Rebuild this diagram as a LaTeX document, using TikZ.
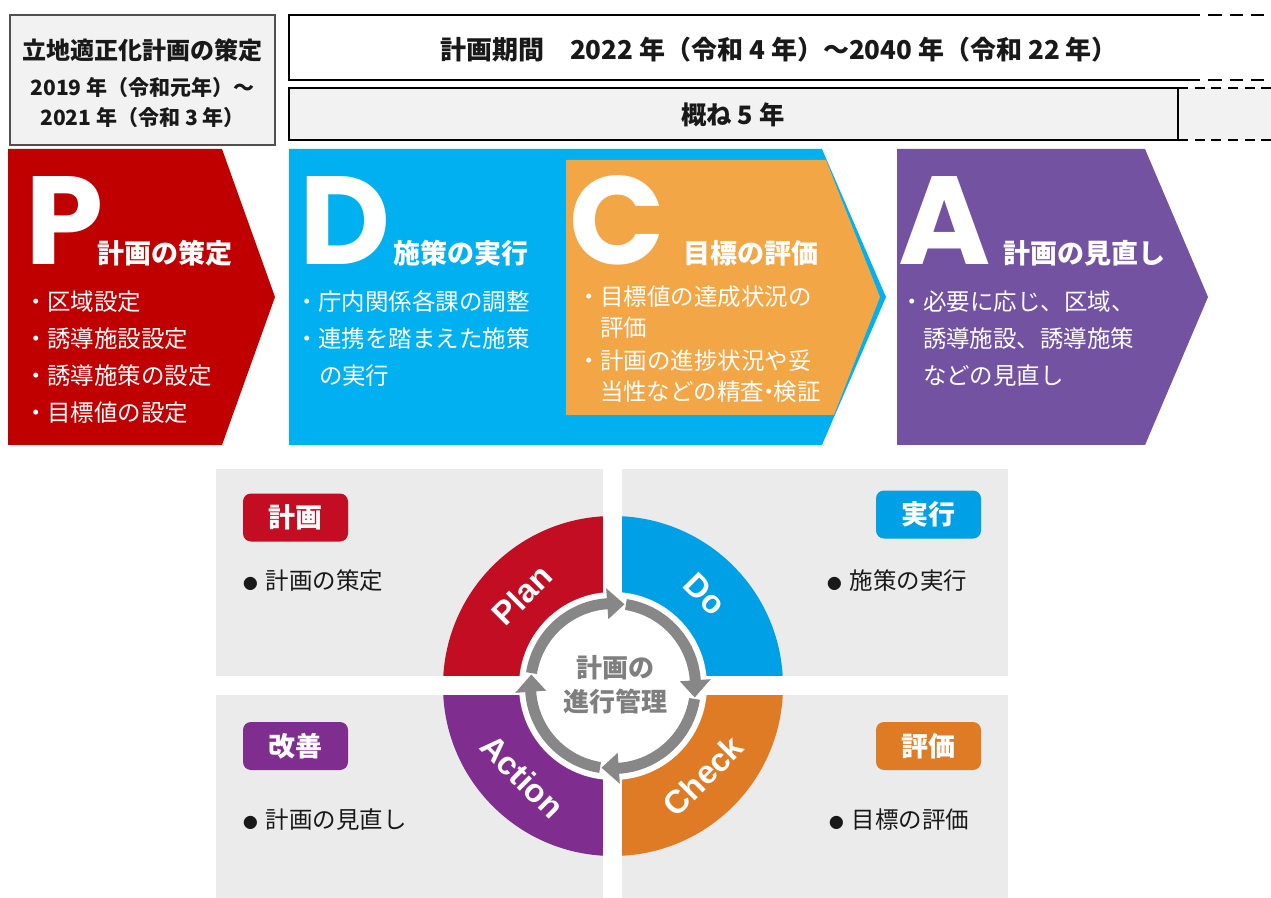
\documentclass[tikz,border=0pt]{standalone}
\usepackage{fontspec}
\setmainfont{Noto Sans CJK JP}
\newfontfamily\bigfont{Poppins}
\newfontfamily\latfont{Liberation Sans}
\newcommand\setfs[1]{\fontsize{#1pt}{#1pt}\selectfont}
\definecolor{boxgray}{HTML}{F2F2F2}
\definecolor{boxline}{HTML}{505050}
\definecolor{pred}{HTML}{C00000}
\definecolor{dblue}{HTML}{00B0F0}
\definecolor{corange}{HTML}{F3A646}
\definecolor{apurple}{HTML}{7352A1}
\definecolor{panelgray}{HTML}{EBEBEB}
\definecolor{rred}{HTML}{C30D23}
\definecolor{rblue}{HTML}{00A0E6}
\definecolor{rorange}{HTML}{E07B25}
\definecolor{rpurple}{HTML}{7F2D8E}
\definecolor{arrowgray}{HTML}{878787}
\definecolor{centergray}{HTML}{7F7F7F}
\begin{document}
\begin{tikzpicture}[x=0.75pt,y=-0.75pt,
  jtxt/.style={inner sep=0pt, outer sep=0pt, text=black!90},
  wtext/.style={inner sep=0pt, outer sep=0pt, text=white, anchor=west, font=\setfs{17.6}},
  whead/.style={inner sep=0pt, outer sep=0pt, text=white, anchor=west, font=\bfseries\setfs{20.25}},
  bigletter/.style={inner sep=0pt, outer sep=0pt, text=white, anchor=base, font=\bigfont\bfseries\setfs{94}},
  ringtxt/.style={inner sep=0pt, outer sep=0pt, text=white, font=\latfont\bfseries\setfs{24.5}},
  tagbox/.style={rounded corners=6pt, inner sep=0pt, text=white, font=\bfseries\setfs{20.25}, minimum width=78.75pt, minimum height=36pt},
  bultext/.style={inner sep=0pt, outer sep=0pt, anchor=west, text=black!90, font=\setfs{17.6}},
  solidline/.style={line width=2.2pt, black},
  dashline/.style={line width=2.2pt, black, dash pattern=on 10pt off 6pt},
  thinsolid/.style={line width=1.6pt, black},
  thindash/.style={line width=1.6pt, black, dash pattern=on 7.5pt off 5pt}
]
\useasboundingbox (0,0) rectangle (1271,898);
\fill[white] (0,0) rectangle (1271,898);

% ---------- top-left box ----------
\draw[line width=1.1pt, draw=boxline, fill=boxgray] (10,15) rectangle (275,145);
\node[jtxt, font=\bfseries\setfs{18}] (tl1) at (142.5,50) {立地適正化計画の策定};
\node[jtxt, font=\bfseries\setfs{15.75}] (tl2) at (142.5,88) {2019 年（令和元年）～};
\node[jtxt, font=\bfseries\setfs{15.75}] (tl3) at (142.5,118) {2021 年（令和 3 年）};

% ---------- period box ----------
\draw[solidline] (1187,15) -- (289,15) -- (289,80) -- (1187,80);
\draw[dashline] (1187,15) -- (1271,15);
\draw[dashline] (1187,80) -- (1271,80);
\node[jtxt, font=\bfseries\setfs{19.5}] (period) at (779,50) {計画期間　2022 年（令和 4 年）～2040 年（令和 22 年）};

\fill[boxgray] (289,88) rectangle (1271,140);
\draw[thinsolid] (1178,88) -- (289,88) -- (289,140) -- (1178,140) -- cycle;
\draw[thindash] (1178,88) -- (1271,88);
\draw[thindash] (1178,140) -- (1271,140);
\node[jtxt, font=\bfseries\setfs{19}] (five) at (733,115) {概ね 5 年};

% ---------- PDCA chevrons ----------
\fill[pred] (8,149) -- (222,149) -- (275,297) -- (222,445) -- (8,445) -- cycle;
\fill[dblue] (289,149) -- (822,149) -- (886,297) -- (822,445) -- (289,445) -- cycle;
\fill[corange] (566,160) -- (826,160) -- (880,297) -- (834,415) -- (566,415) -- cycle;
\fill[apurple] (897,149) -- (1145,149) -- (1208,297) -- (1145,445) -- (897,445) -- cycle;

\node[bigletter] (bigP) at (65,265) {P};
\node[bigletter] (bigD) at (345,265) {D};
\node[bigletter] (bigC) at (617,265) {C};
\node[bigletter] (bigA) at (945,265) {A};

\node[whead] (hP) at (97,253) {計画の策定};
\node[whead] (hD) at (393,253) {施策の実行};
\node[whead] (hC) at (683,253) {目標の評価};
\node[whead] (hA) at (1003,253) {計画の見直し};

\node[wtext] (p1) at (24,302) {・区域設定};
\node[wtext] (p2) at (24,339) {・誘導施設設定};
\node[wtext] (p3) at (24,376) {・誘導施策の設定};
\node[wtext] (p4) at (24,413) {・目標値の設定};

\node[wtext] (d1) at (295,302) {・庁内関係各課の調整};
\node[wtext] (d2) at (295,339) {・連携を踏まえた施策};
\node[wtext] (d3) at (319,376) {の実行};

\node[wtext] (c1) at (577,297) {・目標値の達成状況の};
\node[wtext] (c2) at (600,328) {評価};
\node[wtext] (c3) at (577,361) {・計画の進捗状況や妥};
\node[wtext] (c4) at (600,392) {当性などの精査\hspace{-0.3em}・\hspace{-0.3em}検証};

\node[wtext] (a1) at (900,302) {・必要に応じ、区域、};
\node[wtext] (a2) at (923,339) {誘導施設、誘導施策};
\node[wtext] (a3) at (923,376) {などの見直し};

% ---------- bottom panels ----------
\fill[panelgray] (216,469) rectangle (603,676);
\fill[panelgray] (622,469) rectangle (1008,676);
\fill[panelgray] (216,695) rectangle (603,898);
\fill[panelgray] (622,695) rectangle (1008,898);

\begin{scope}[shift={(613,686)}, yscale=-1]
  \fill[rblue] (0,0) -- (0:170) arc[start angle=0, end angle=90, radius=170] -- cycle;
  \fill[rred] (0,0) -- (90:170) arc[start angle=90, end angle=180, radius=170] -- cycle;
  \fill[rpurple] (0,0) -- (180:170) arc[start angle=180, end angle=270, radius=170] -- cycle;
  \fill[rorange] (0,0) -- (270:170) arc[start angle=270, end angle=360, radius=170] -- cycle;
  \fill[white] (0,0) circle[radius=94];
\end{scope}

\fill[white] (603,460) rectangle (622,898);
\fill[white] (210,676) rectangle (1015,695);

\begin{scope}[shift={(613,686)}, yscale=-1]
  \foreach \tip in {82,-8,-98,172} {
    \fill[arrowgray] ({\tip+89}:88) arc[start angle={\tip+89}, end angle={\tip+11}, radius=88]
       -- ({\tip+11}:77) arc[start angle={\tip+11}, end angle={\tip+89}, radius=77] -- cycle;
    \fill[arrowgray] ({\tip+12}:98) -- (\tip:82.5) -- ({\tip+12}:67) -- cycle;
  }
  \node[ringtxt, rotate=45] (plan) at (135:129) {Plan};
  \node[ringtxt, rotate=-45] (do) at (45:130) {Do};
  \node[ringtxt, rotate=45] (check) at (-45:127) {Check};
  \node[ringtxt, rotate=-45] (action) at (-135:128) {Action};
\end{scope}

\node[jtxt, text=centergray, font=\bfseries\setfs{19.5}] (cen1) at (615,668) {計画の};
\node[jtxt, text=centergray, font=\bfseries\setfs{19.5}] (cen2) at (615,702) {進行管理};

\node[tagbox, fill=rred] (tagP) at (295.5,517.5) {計画};
\node[tagbox, fill=rblue] (tagD) at (928.5,514.5) {実行};
\node[tagbox, fill=rpurple] (tagA) at (295.5,746) {改善};
\node[tagbox, fill=rorange] (tagC) at (928.5,746) {評価};

\node[bultext] (bP) at (243,581) {{\setfs{11}●}\hspace{6pt}計画の策定};
\node[bultext] (bD) at (827,581) {{\setfs{11}●}\hspace{6pt}施策の実行};
\node[bultext] (bA) at (243,820) {{\setfs{11}●}\hspace{6pt}計画の見直し};
\node[bultext] (bC) at (829,820) {{\setfs{11}●}\hspace{6pt}目標の評価};
\end{tikzpicture}
\end{document}
